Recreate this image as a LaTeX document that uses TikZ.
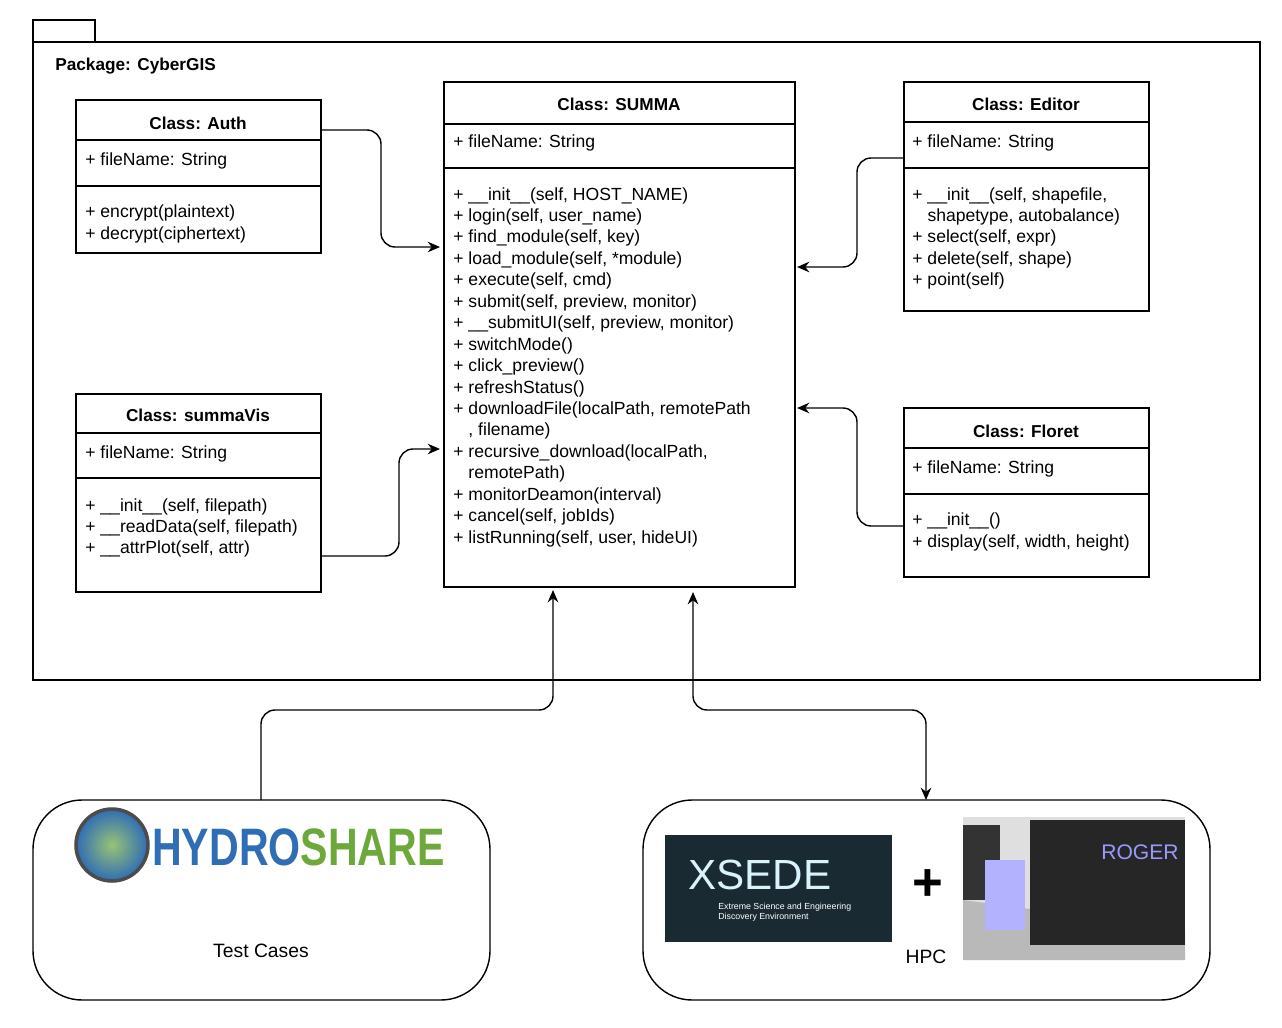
\documentclass[tikz,border=0pt]{standalone}
\usepackage{fontspec}
\setmainfont{Liberation Sans}
\usetikzlibrary{arrows.meta}
\definecolor{hydroblue}{HTML}{2F6DB5}
\definecolor{hydrogreen}{HTML}{6DA83B}
\definecolor{xsededark}{HTML}{1A2A33}
\tikzset{
  box/.style={draw, line width=0.8pt},
  title/.style={font=\fontsize{9.8}{11}\selectfont\bfseries},
  member/.style={anchor=west, font=\fontsize{10}{12.2}\selectfont, align=left, inner sep=0pt},
  link/.style={line width=0.8pt, rounded corners=8pt, -{Stealth[length=7pt,width=6pt]}},
}
\begin{document}
\begin{tikzpicture}[x=0.02cm, y=-0.02cm]
\useasboundingbox (0,0) rectangle (1282,1028);
% package frame
\draw[box] (33,20) rectangle (95,42);
\draw[box] (33,42) rectangle (1260,680);
\node[member, font=\fontsize{9.8}{11}\selectfont\bfseries] (pkg) at (55,66) {Package: CyberGIS};

% Auth
\draw[box] (76,100) rectangle (321,253);
\draw[box] (76,140) -- (321,140) (76,186) -- (321,186);
\node[title] (auth) at (198,123) {Class: Auth};
\node[member] (authattr) at (85,161) {+ fileName: String};
\node[member] (authops) at (85,224) {+ encrypt(plaintext)\\+ decrypt(ciphertext)};
\coordinate (authout) at (321,130);

% summaVis
\draw[box] (76,394) rectangle (321,592);
\draw[box] (76,433) -- (321,433) (76,478) -- (321,478);
\node[title] (vis) at (198,415) {Class: summaVis};
\node[member] (visattr) at (85,454) {+ fileName: String};
\node[member] (visops) at (85,528) {+ \_\_init\_\_(self, filepath)\\+ \_\_readData(self, filepath)\\+ \_\_attrPlot(self, attr)};
\coordinate (visout) at (321,556);

% SUMMA
\draw[box] (444,82) rectangle (795,587);
\draw[box] (444,124) -- (795,124) (444,168) -- (795,168);
\node[title] (summa) at (619,104) {Class: SUMMA};
\node[member] (summaattr) at (453,143) {+ fileName: String};
\node[member, anchor=north west] (summaops) at (453,187) {+ \_\_init\_\_(self, HOST\_NAME)\\
+ login(self, user\_name)\\
+ find\_module(self, key)\\
+ load\_module(self, *module)\\
+ execute(self, cmd)\\
+ submit(self, preview, monitor)\\
+ \_\_submitUI(self, preview, monitor)\\
+ switchMode()\\
+ click\_preview()\\
+ refreshStatus()\\
+ downloadFile(localPath, remotePath\\
\phantom{+} , filename)\\
+ recursive\_download(localPath,\\
\phantom{+ }remotePath)\\
+ monitorDeamon(interval)\\
+ cancel(self, jobIds)\\
+ listRunning(self, user, hideUI)};
\coordinate (inauth) at (440,247);
\coordinate (invis) at (440,449);
\coordinate (ineditor) at (797,267);
\coordinate (infloret) at (797,408);
\coordinate (inhydro) at (553,590);
\coordinate (inhpc) at (693,592);

% Editor
\draw[box] (904,82) rectangle (1149,311);
\draw[box] (904,122) -- (1149,122) (904,168) -- (1149,168);
\node[title] (editor) at (1026,104) {Class: Editor};
\node[member] (editorattr) at (912,143) {+ fileName: String};
\node[member, anchor=north west] (editorops) at (912,187) {+ \_\_init\_\_(self, shapefile,\\
\phantom{+ }shapetype, autobalance)\\
+ select(self, expr)\\
+ delete(self, shape)\\
+ point(self)};
\coordinate (editorout) at (904,158);

% Floret
\draw[box] (904,408) rectangle (1149,577);
\draw[box] (904,448) -- (1149,448) (904,494) -- (1149,494);
\node[title] (floret) at (1026,431) {Class: Floret};
\node[member] (floretattr) at (912,469) {+ fileName: String};
\node[member] (floretops) at (912,532) {+ \_\_init\_\_()\\+ display(self, width, height)};
\coordinate (floretout) at (904,526);

% connectors
\draw[link] (authout) -- (381,130) -- (381,247) -- (inauth);
\draw[link] (visout) -- (399,556) -- (399,449) -- (invis);
\draw[link] (editorout) -- (857,158) -- (857,267) -- (ineditor);
\draw[link] (floretout) -- (857,526) -- (857,408) -- (infloret);

% HydroShare
\draw[box, rounded corners=28pt] (33,800) rectangle (490,1000);
\coordinate (hydrotop) at (261,800);
\shade[inner color=hydrogreen!70, outer color=hydroblue, draw=gray!60!black, line width=2pt] (112,845) circle (36);
\node[font=\fontsize{30}{30}\selectfont\bfseries, inner sep=0pt, anchor=west, xscale=0.78] (hydro) at (152,847) {\textcolor{hydroblue}{HYDRO}\textcolor{hydrogreen}{SHARE}};
\node[font=\fontsize{11}{13}\selectfont] (tests) at (261,951) {Test Cases};
\draw[link] (hydrotop) -- (261,710) -- (553,710) -- (inhydro);

% HPC
\draw[box, rounded corners=28pt] (643,800) rectangle (1210,1000);
\coordinate (hpctop) at (926,800);
\fill[xsededark] (665,835) rectangle (892,942);
\node[font=\fontsize{24}{24}\selectfont, text=white!85!cyan, inner sep=0pt] (xsede) at (760,875) {XSEDE};
\node[font=\fontsize{5}{6}\selectfont, text=white!80, align=left, inner sep=0pt, anchor=west] (xsedesub) at (718,912) {Extreme Science and Engineering\\Discovery Environment};
\node[font=\fontsize{30}{30}\selectfont\bfseries, inner sep=0pt] (plus) at (928,885) {+};
\fill[gray!25] (963,817) rectangle (1185,960);
\fill[gray!55] (963,900) -- (1185,930) -- (1185,960) -- (963,960) -- cycle;
\fill[black!85] (1030,820) rectangle (1185,945);
\fill[black!80] (963,825) rectangle (1000,900);
\fill[blue!30!white] (985,860) rectangle (1025,930);
\node[font=\fontsize{12}{12}\selectfont, text=blue!40!white, inner sep=0pt] (roger) at (1140,852) {ROGER};
\node[font=\fontsize{11}{13}\selectfont] (hpc) at (926,957) {HPC};
\draw[line width=0.8pt, rounded corners=8pt, {Stealth[length=7pt,width=6pt]}-{Stealth[length=7pt,width=6pt]}] (inhpc) -- (693,710) -- (926,710) -- (hpctop);
\end{tikzpicture}
\end{document}
